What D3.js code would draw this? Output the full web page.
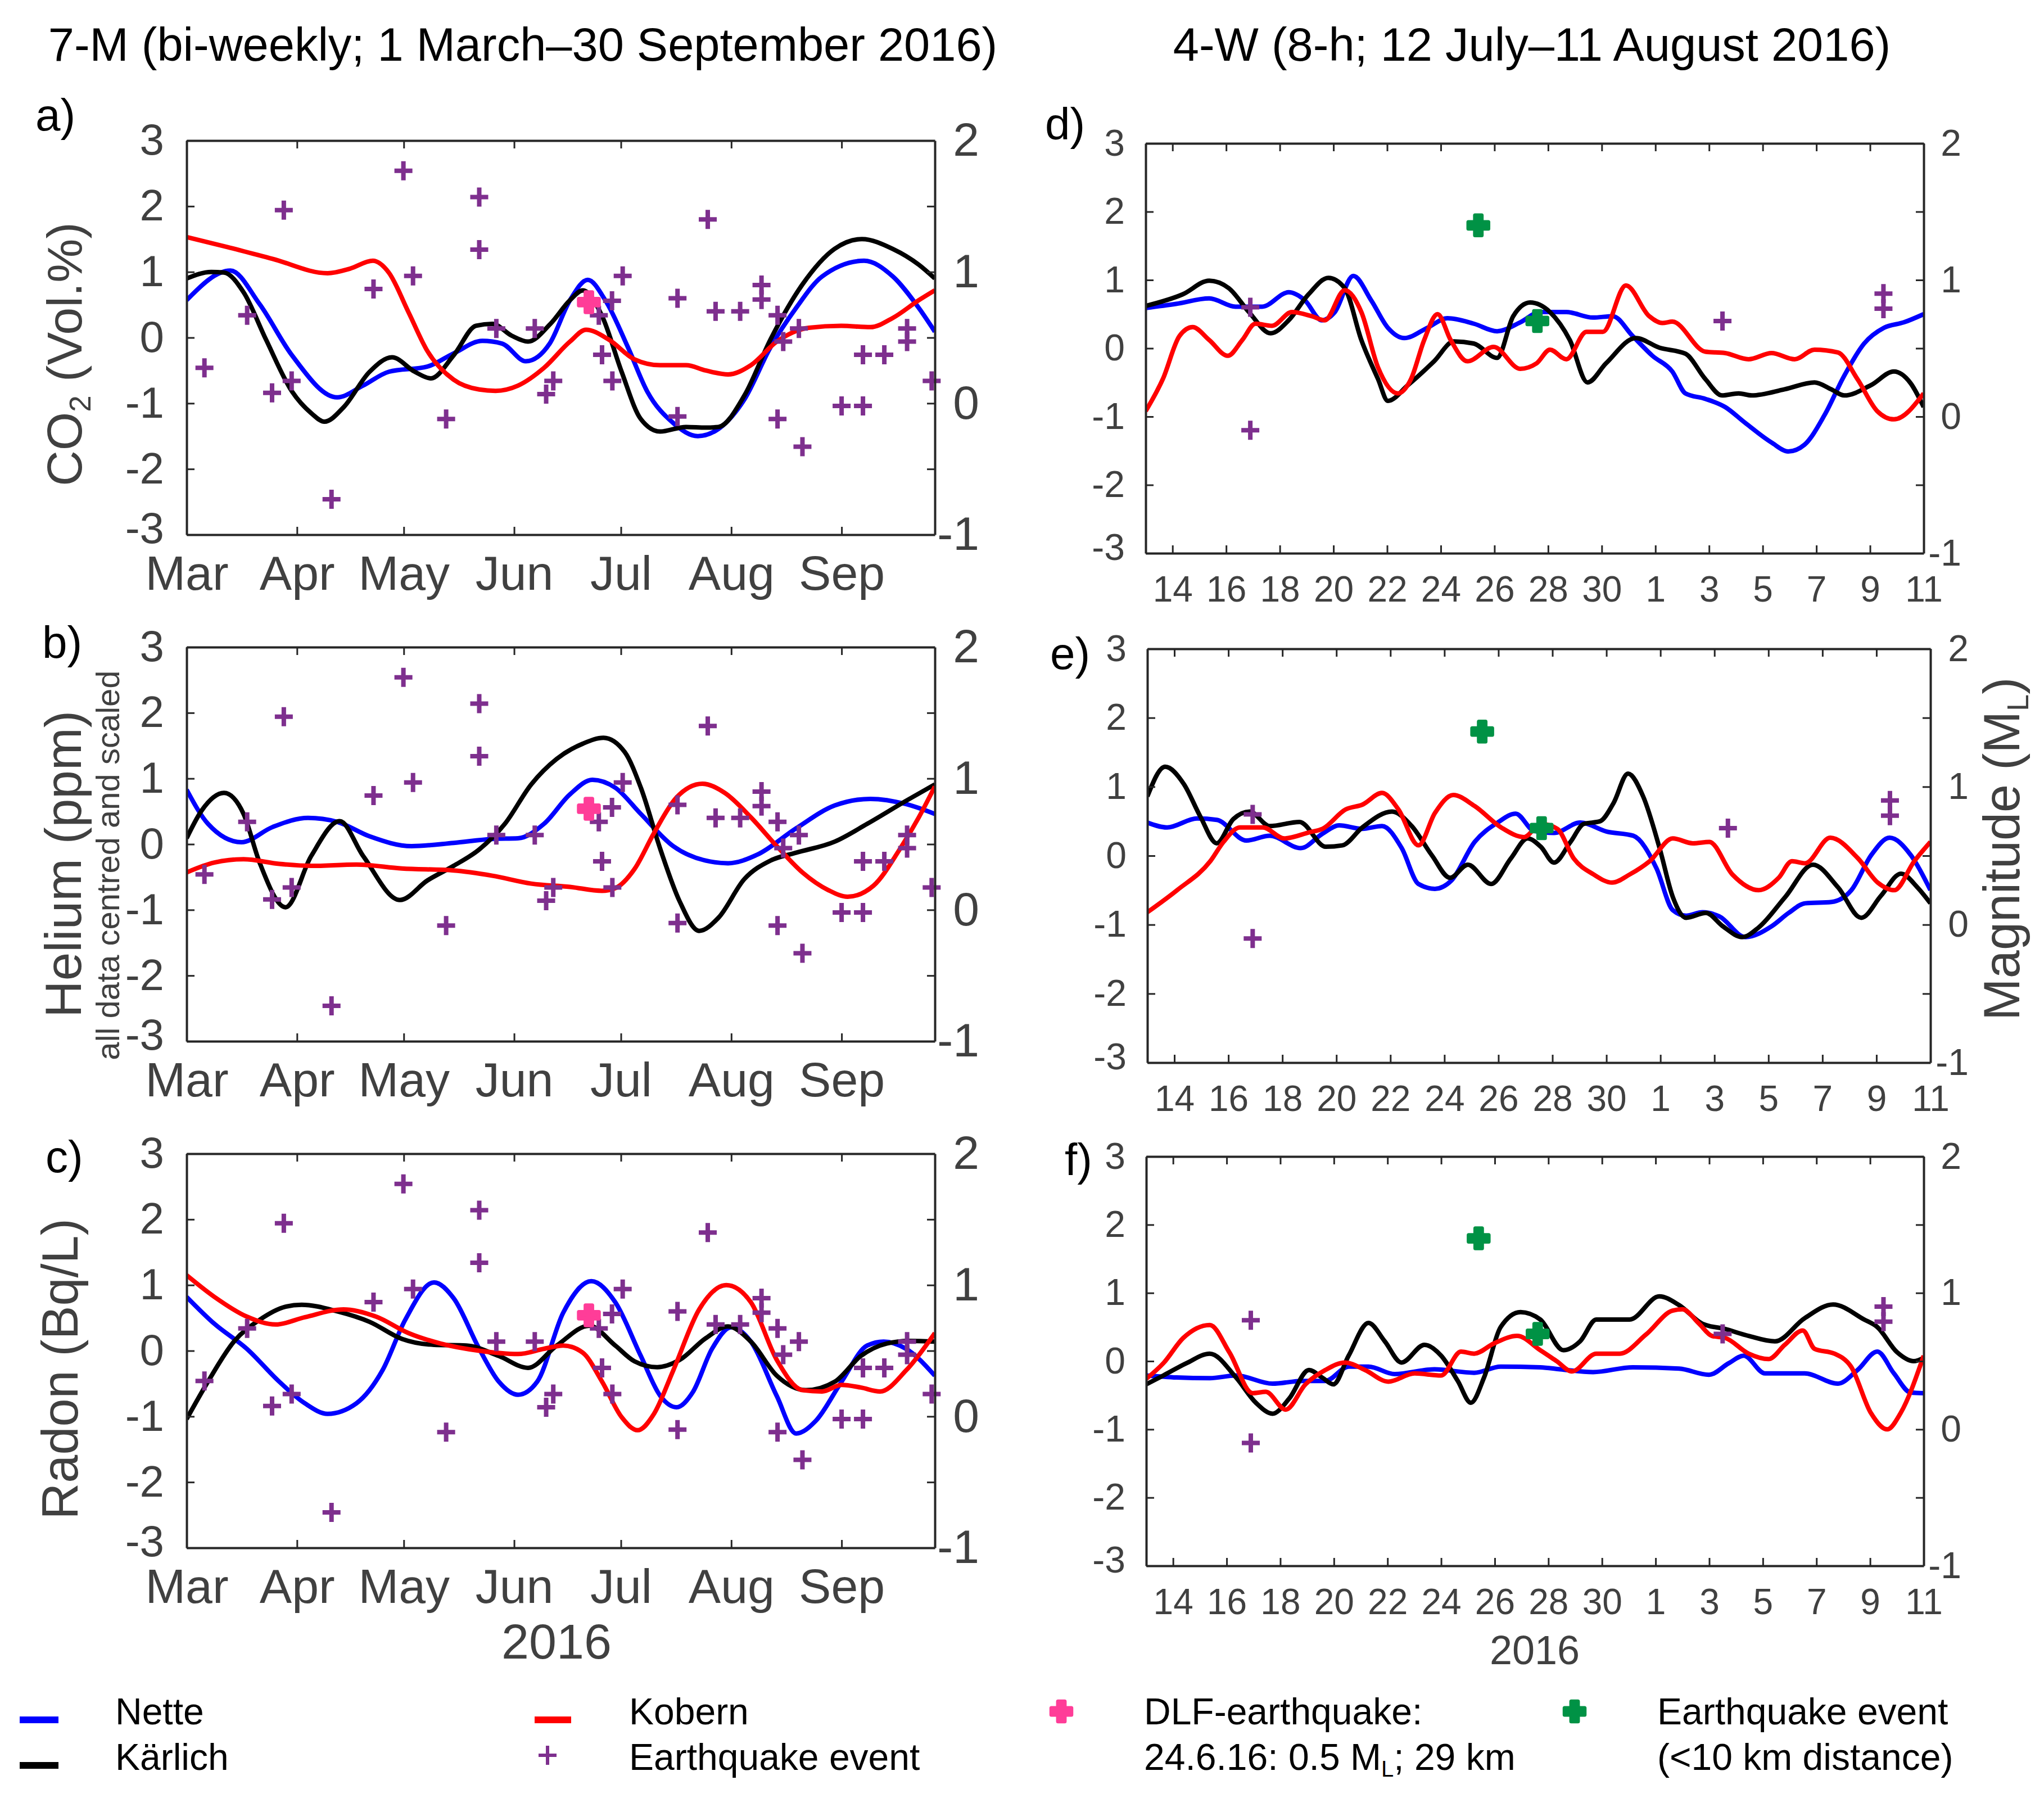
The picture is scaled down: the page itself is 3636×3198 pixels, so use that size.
<!DOCTYPE html>
<html lang="en">
<head>
<meta charset="UTF-8">
<title>Gas anomalies and earthquakes 2016</title>
<script src="https://d3js.org/d3.v7.min.js"></script>
<style>
  body { margin: 0; background: #fff; }
  svg { font-family: "Liberation Sans", Arial, sans-serif; }
</style>
</head>
<body>
<script>
// ---------- data ----------
// 7-M series: [days after 1 March 2016, centred/scaled value]
const co2Nette = [[0,0.57],[12.3,1.02],[20.5,0.51],[29.6,-0.27],[42.3,-0.91],[49.6,-0.73],[56.8,-0.52],[67.7,-0.44],[75,-0.24],[83.1,-0.05],[88.6,-0.09],[95.3,-0.36],[102,-0.09],[107.7,0.57],[112.7,0.88],[117.6,0.57],[124,-0.15],[129.4,-0.82],[136.7,-1.3],[143.6,-1.5],[149.4,-1.39],[156.7,-0.94],[164,-0.15],[171.2,0.45],[178.5,0.93],[190.3,1.17],[198.4,0.93],[205.7,0.45],[210.2,0.09]];
const co2Karlich = [[0,0.9],[6.9,1.0],[10.5,0.99],[16,0.69],[22.3,-0.03],[29.6,-0.82],[35,-1.15],[38.7,-1.28],[44.1,-1.06],[51.4,-0.52],[57.7,-0.3],[64.1,-0.52],[68.6,-0.62],[75,-0.27],[81.3,0.18],[85.9,0.21],[91.3,0.03],[95.9,-0.06],[102.2,0.21],[107.7,0.57],[111.3,0.72],[116.7,0.33],[122.2,-0.52],[127.6,-1.24],[133,-1.43],[140.3,-1.36],[145.8,-1.37],[149.4,-1.36],[156.7,-0.88],[164,-0.03],[173,0.81],[182,1.35],[189.7,1.5],[198.4,1.35],[205.7,1.11],[210.2,0.9]];
const co2Kobern = [[0,1.53],[11.4,1.38],[24.1,1.2],[39.6,0.98],[45.9,1.05],[52.3,1.17],[56.8,0.99],[62.3,0.39],[67.7,-0.21],[75,-0.64],[82.2,-0.79],[86.8,-0.81],[93.1,-0.73],[100.4,-0.46],[107.7,-0.06],[112.2,0.12],[118.6,-0.03],[125.8,-0.33],[133,-0.42],[140.3,-0.42],[145.8,-0.5],[152.1,-0.56],[158.5,-0.42],[165.8,-0.06],[174.8,0.15],[183.9,0.18],[192.1,0.16],[198.4,0.3],[205.7,0.57],[210.2,0.72]];

const heNette = [[0,0.83],[6,0.31],[15.4,0.03],[24.1,0.26],[34.1,0.4],[42.3,0.34],[51.4,0.12],[63.2,-0.03],[75,0.02],[85.9,0.08],[93.1,0.09],[100.4,0.31],[107.7,0.76],[114,0.98],[120.4,0.86],[127.6,0.46],[136.7,-0.03],[145.8,-0.25],[152.1,-0.29],[160.3,-0.16],[171.2,0.24],[182.1,0.59],[192.1,0.69],[202.1,0.61],[210.2,0.46]];
const heKarlich = [[0,0.09],[4.2,0.51],[10.5,0.78],[16,0.46],[20.5,-0.28],[27.8,-0.96],[35,-0.18],[43,0.35],[49.6,-0.18],[59.9,-0.85],[67.7,-0.55],[75,-0.33],[82.2,-0.08],[89.4,0.31],[96.8,0.91],[104,1.3],[111.3,1.53],[117.1,1.62],[123.1,1.4],[127.6,0.86],[133.1,-0.08],[138.5,-0.87],[144,-1.32],[149.4,-1.12],[156.7,-0.53],[164,-0.25],[171.2,-0.13],[182.1,0.04],[191.2,0.31],[202.1,0.66],[210.2,0.91]];
const heKobern = [[0,-0.43],[7.8,-0.28],[16,-0.23],[26,-0.3],[35,-0.33],[47.7,-0.31],[60.5,-0.37],[75,-0.4],[85.9,-0.48],[96.8,-0.6],[107.7,-0.65],[116.7,-0.71],[120.4,-0.67],[125.8,-0.38],[131.3,0.17],[137.6,0.71],[144.9,0.92],[151.2,0.78],[158.5,0.41],[165.8,-0.03],[173,-0.43],[180.3,-0.7],[185.7,-0.8],[193,-0.63],[200.3,-0.08],[205.7,0.41],[210.2,0.88]];

const rnNette = [[0,0.82],[7.8,0.41],[16.9,0.03],[26,-0.47],[33.2,-0.8],[39.6,-0.96],[47.7,-0.8],[55,-0.3],[61.4,0.47],[69.5,1.04],[75,0.8],[82.2,0.03],[87.7,-0.47],[93.1,-0.67],[98.5,-0.47],[105.8,0.58],[113.7,1.06],[120.4,0.74],[127.6,-0.08],[133.1,-0.69],[137.6,-0.86],[142.2,-0.63],[147.6,0.03],[153.1,0.36],[158.5,0.14],[165.8,-0.69],[171.2,-1.26],[176.7,-1.07],[184,-0.47],[191.2,0.08],[195.8,0.14],[202.1,0.03],[210.2,-0.38]];
const rnKarlich = [[0,-1.04],[6,-0.47],[13.3,0.14],[20.5,0.47],[27.8,0.67],[32.3,0.7],[42.3,0.6],[51.4,0.44],[60.5,0.18],[69.5,0.09],[78.6,0.08],[87.7,-0.08],[95.9,-0.26],[104,0.08],[113.1,0.38],[120.4,0.08],[125.8,-0.16],[132.2,-0.25],[138.5,-0.14],[145.8,0.19],[152.1,0.37],[158.5,0.14],[165.8,-0.38],[174,-0.6],[182.1,-0.47],[189.4,-0.08],[196.7,0.11],[203,0.15],[210.2,0.14]];
const rnKobern = [[0,1.15],[7.8,0.82],[16.9,0.52],[25,0.4],[33.2,0.51],[44.1,0.63],[53.2,0.52],[62.3,0.27],[71.3,0.11],[82.2,0.0],[93.1,-0.05],[100.4,0.03],[105.8,0.08],[111.3,-0.03],[116.7,-0.47],[122.2,-1.01],[126.7,-1.21],[131.3,-0.96],[136.7,-0.3],[144,0.63],[151.6,1.0],[158.5,0.74],[165.8,-0.14],[173,-0.6],[178.5,-0.62],[184,-0.52],[189.4,-0.56],[194.8,-0.62],[202.1,-0.3],[210.2,0.27]];

// 4-W series: [days after 13 July 2016, centred/scaled value]
const co2NetteW = [[0,0.59],[1.13,0.65],[2.37,0.73],[3.35,0.61],[4.34,0.61],[5.33,0.82],[5.94,0.7],[6.56,0.41],[7.05,0.53],[7.74,1.06],[8.41,0.7],[9.03,0.3],[9.64,0.15],[10.5,0.3],[11.25,0.44],[12.23,0.36],[13.1,0.25],[13.96,0.38],[14.7,0.53],[15.68,0.53],[16.67,0.45],[17.41,0.47],[18.15,0.18],[18.89,-0.11],[19.63,-0.34],[20.12,-0.66],[20.86,-0.74],[21.6,-0.86],[22.34,-1.09],[23.33,-1.38],[23.95,-1.51],[24.56,-1.41],[25.3,-0.98],[26.04,-0.4],[26.78,0.07],[27.52,0.3],[28.26,0.38],[29,0.5]];
const co2KarlichW = [[0,0.62],[1.38,0.79],[2.37,0.99],[3.1,0.88],[3.85,0.53],[4.66,0.22],[5.33,0.41],[6.07,0.79],[6.81,1.03],[7.42,0.88],[8.04,0.12],[8.66,-0.45],[9.03,-0.77],[9.77,-0.54],[10.75,-0.19],[11.49,0.1],[12.23,0.07],[13.1,-0.14],[13.7,0.47],[14.33,0.67],[15.07,0.53],[15.81,0.12],[16.47,-0.5],[17.16,-0.22],[18.27,0.15],[19.14,0.01],[20.12,-0.08],[20.86,-0.45],[21.48,-0.69],[22.1,-0.66],[22.59,-0.69],[23.82,-0.6],[24.93,-0.5],[25.55,-0.6],[26.04,-0.69],[27.03,-0.54],[27.89,-0.34],[28.51,-0.51],[29,-0.86]];
const co2KobernW = [[0,-0.92],[0.64,-0.45],[1.26,0.18],[1.75,0.31],[2.37,0.12],[3.06,-0.11],[3.6,0.12],[4.09,0.36],[4.71,0.33],[5.45,0.53],[6.19,0.47],[6.68,0.41],[7.42,0.85],[8.04,0.53],[8.66,-0.28],[9.4,-0.66],[9.89,-0.45],[10.38,0.12],[10.88,0.5],[11.37,0.12],[11.99,-0.19],[12.97,0.02],[13.96,-0.3],[14.57,-0.22],[15.07,-0.02],[15.68,-0.16],[16.43,0.24],[17.04,0.24],[17.9,0.92],[18.77,0.47],[19.26,0.37],[19.63,0.39],[20.86,-0.05],[21.6,-0.07],[22.47,-0.16],[23.33,-0.07],[24.19,-0.16],[24.93,-0.02],[25.8,-0.06],[26.53,-0.45],[27.27,-0.92],[27.89,-1.04],[29,-0.66]];

const heNetteW = [[0,0.48],[0.73,0.41],[1.84,0.54],[2.57,0.52],[3.67,0.22],[4.53,0.29],[5.68,0.11],[6.49,0.32],[7.1,0.44],[7.96,0.39],[8.69,0.43],[9.42,0.11],[10.04,-0.41],[10.65,-0.48],[11.26,-0.36],[12.12,0.2],[12.97,0.48],[13.64,0.61],[14.32,0.36],[15.06,0.33],[16.03,0.48],[17.01,0.35],[17.99,0.29],[18.85,-0.18],[19.46,-0.79],[19.95,-0.87],[20.56,-0.82],[21.18,-0.88],[22.15,-1.18],[23.13,-1.02],[23.75,-0.83],[24.36,-0.69],[25.34,-0.67],[26.07,-0.5],[26.81,0.01],[27.49,0.26],[28.27,0.01],[29,-0.5]];
const heKarlichW = [[0,0.86],[0.66,1.29],[1.35,1.04],[1.96,0.57],[2.57,0.18],[3.18,0.53],[3.79,0.64],[4.53,0.43],[5.63,0.49],[6.61,0.13],[7.22,0.15],[7.96,0.41],[9.06,0.64],[9.79,0.43],[10.53,0.01],[11.21,-0.32],[11.87,-0.13],[12.73,-0.41],[13.46,-0.04],[14.08,0.25],[14.57,0.13],[15.06,-0.1],[15.67,0.2],[16.16,0.46],[16.77,0.5],[17.26,0.76],[17.8,1.19],[18.36,0.86],[18.97,0.11],[19.46,-0.6],[19.95,-0.9],[20.69,-0.83],[21.3,-1.02],[22.03,-1.18],[22.64,-1.04],[23.62,-0.6],[24.65,-0.13],[25.58,-0.46],[26.44,-0.9],[27.17,-0.58],[27.91,-0.26],[28.52,-0.46],[29,-0.69]];
const heKobernW = [[0,-0.82],[1.1,-0.5],[2.33,-0.08],[2.82,0.2],[3.43,0.41],[4.28,0.41],[5.07,0.25],[6,0.34],[6.49,0.39],[7.34,0.67],[7.96,0.74],[8.69,0.91],[9.3,0.67],[10.04,0.15],[10.65,0.62],[11.33,0.88],[12.12,0.72],[13.1,0.41],[13.95,0.27],[14.57,0.46],[15.18,0.39],[15.79,-0.04],[16.52,-0.27],[17.21,-0.39],[17.87,-0.27],[18.6,-0.08],[19.46,0.25],[20.2,0.18],[20.81,0.2],[21.66,-0.27],[22.64,-0.5],[23.38,-0.32],[23.87,-0.08],[24.36,-0.11],[25.29,0.26],[26.32,-0.04],[27.05,-0.39],[27.66,-0.5],[28.4,-0.08],[29,0.2]];

const rnNetteW = [[0,-0.21],[1.13,-0.24],[2.37,-0.25],[3.35,-0.21],[4.71,-0.33],[5.82,-0.29],[6.68,-0.29],[7.55,-0.08],[8.29,-0.08],[9.27,-0.19],[10.75,-0.12],[12.23,-0.17],[13.22,-0.08],[14.7,-0.09],[15.44,-0.12],[16.67,-0.16],[18.15,-0.09],[19.88,-0.11],[20.99,-0.2],[21.73,-0.03],[22.29,0.08],[23.08,-0.18],[24.56,-0.18],[25.8,-0.33],[26.53,-0.13],[27.27,0.14],[27.89,-0.18],[28.51,-0.46],[29,-0.47]];
const rnKarlichW = [[0,-0.34],[0.64,-0.21],[1.5,-0.03],[2.37,0.11],[3.35,-0.24],[4.09,-0.61],[4.71,-0.77],[5.33,-0.55],[6.07,-0.13],[6.56,-0.24],[6.98,-0.34],[7.55,0.08],[8.29,0.56],[8.9,0.29],[9.52,-0.02],[10.38,0.24],[11,0.08],[11.62,-0.29],[12.11,-0.61],[12.6,-0.24],[13.22,0.5],[13.96,0.72],[14.7,0.61],[15.56,0.16],[16.18,0.29],[16.79,0.61],[18.03,0.61],[19.14,0.95],[19.88,0.82],[20.74,0.55],[21.6,0.47],[22.47,0.37],[23.45,0.29],[24.56,0.63],[25.62,0.83],[26.78,0.61],[27.27,0.5],[28.01,0.13],[28.63,0.0],[29,0.05]];
const rnKobernW = [[0,-0.26],[0.64,-0.03],[1.38,0.34],[2.37,0.53],[3.1,0.13],[3.97,-0.47],[4.46,-0.45],[5.2,-0.71],[5.94,-0.34],[6.68,-0.13],[7.42,-0.02],[8.16,-0.13],[9.03,-0.3],[10.01,-0.18],[11,-0.21],[11.74,0.14],[12.23,0.11],[12.97,0.26],[13.83,0.37],[14.7,0.16],[15.31,0.0],[15.88,-0.15],[16.79,0.11],[17.66,0.11],[18.64,0.39],[19.63,0.74],[20,0.76],[20.62,0.55],[21.1,0.37],[21.6,0.34],[22.47,0.11],[23.21,0.03],[23.82,0.24],[24.49,0.45],[24.93,0.18],[25.67,0.11],[26.29,-0.08],[27.03,-0.76],[27.64,-1.0],[28.14,-0.76],[29,0.08]];

// earthquake events: days after 1 March 2016, local magnitude (ML), 1 = <10 km distance
const eventDays = [5,17,24,27.3,29.5,40.7,52.5,60.9,63.6,72.9,82.2,82.2,87,97.8,101,103,115.8,116.7,119.5,119.6,122.5,137.9,137.9,146.4,148.6,155.5,161.5,161.5,166,166,167.6,172,173,184,190,190,196,202.4,202.4,209.3];
const eventMag = [0.27,0.67,0.08,1.47,0.17,-0.73,0.87,1.77,0.97,-0.12,1.57,1.17,0.57,0.57,0.07,0.17,0.67,0.37,0.78,0.17,0.97,0.8,-0.1,1.4,0.7,0.7,0.9,0.79,0.67,-0.12,0.47,0.57,-0.33,-0.02,-0.02,0.37,0.37,0.57,0.47,0.17];
const eventNear = [0,0,0,0,0,0,0,0,0,0,0,0,0,0,0,0,0,0,0,0,0,0,0,1,1,0,0,0,0,0,0,0,0,0,0,0,0,0,0,0];
const dlfDay = 113, dlfMag = 0.77;

const monthLabels = ["Mar","Apr","May","Jun","Jul","Aug","Sep"];
const weekTickDays = [1,3,5,7,9,11,13,15,17,19,21,23,25,27,29]; // after 13 July
const leftTicks = [-3,-2,-1,0,1,2,3];
const magTicks = [-1,-0.5,0,0.5,1,1.5,2];

// ---------- layout ----------
const W = 3636, H = 3198;
const svg = d3.select("body").append("svg").attr("width", W).attr("height", H);

const dayMs = 864e5;
const startM = Date.UTC(2016, 2, 1);
const startW = Date.UTC(2016, 6, 13);
const col = { nette: "#0000ff", kobern: "#ff0000", karlich: "#000000",
              quake: "#7e2f8e", dlf: "#ff3d98", near: "#009245" };
const axisCol = "#262626", textCol = "#404040";

const mStyle = { t0: startM, end: 210.2, yFont: 78, xFont: 86, rFont: 84, yPad: 40, xPad: 37,
  ticks: monthLabels.map((m, i) => new Date(Date.UTC(2016, 2 + i, 1))), fmt: d3.utcFormat("%b") };
const wStyle = { t0: startW, end: 29, yFont: 66, xFont: 64, rFont: 66, yPad: 37, xPad: 41,
  ticks: weekTickDays.map(d => new Date(startW + d * dayMs)), fmt: d3.utcFormat("%-d") };

const panels = [
  { id: "a", s: mStyle, x0: 332, x1: 1663, y0: 250, y1: 951, rx: 79, lines: [co2Nette, co2Karlich, co2Kobern], letter: [63, 232] },
  { id: "b", s: mStyle, x0: 332, x1: 1663, y0: 1151, y1: 1852, rx: 79, lines: [heNette, heKarlich, heKobern], letter: [75, 1170] },
  { id: "c", s: mStyle, x0: 332, x1: 1663, y0: 2052, y1: 2753, rx: 79, lines: [rnNette, rnKarlich, rnKobern], letter: [81, 2085] },
  { id: "d", s: wStyle, x0: 2038, x1: 3422, y0: 255, y1: 984, rx: 67, lines: [co2NetteW, co2KarlichW, co2KobernW], letter: [1859, 248] },
  { id: "e", s: wStyle, x0: 2041, x1: 3434, y0: 1154, y1: 1890, rx: 68, lines: [heNetteW, heKarlichW, heKobernW], letter: [1868, 1190] },
  { id: "f", s: wStyle, x0: 2039, x1: 3422, y0: 2057, y1: 2785, rx: 67, lines: [rnNetteW, rnKarlichW, rnKobernW], letter: [1894, 2090] }
];
const lineColors = [col.nette, col.karlich, col.kobern];

const plusPath = "M-16,0H16M0,-17V17";
const bigCross = d3.symbol(d3.symbolCross, 700);

// chunky cross used for the DLF and near events
function fatCross(sel, color) {
  return sel.attr("d", bigCross).attr("fill", color).attr("stroke", color)
    .attr("stroke-width", 7).attr("stroke-linejoin", "round");
}

panels.forEach(p => {
  const s = p.s;
  const g = svg.append("g");
  const x = d3.scaleUtc().domain([new Date(s.t0), new Date(s.t0 + s.end * dayMs)]).range([p.x0, p.x1]);
  const y = d3.scaleLinear().domain([-3, 3]).range([p.y1, p.y0]);
  const yM = d3.scaleLinear().domain([-1, 2]).range([p.y1, p.y0]);

  g.append("clipPath").attr("id", "clip" + p.id).append("rect")
    .attr("x", p.x0).attr("y", p.y0).attr("width", p.x1 - p.x0).attr("height", p.y1 - p.y0);

  // series
  const line = d3.line()
    .x(d => x(new Date(s.t0 + d[0] * dayMs)))
    .y(d => y(d[1]))
    .curve(d3.curveMonotoneX);
  const lg = g.append("g").attr("clip-path", `url(#clip${p.id})`);
  p.lines.forEach((ser, i) => {
    lg.append("path").attr("d", line(ser)).attr("fill", "none")
      .attr("stroke", lineColors[i]).attr("stroke-width", 8).attr("stroke-linejoin", "round");
  });

  // earthquake markers
  const ev = eventDays.map((d, i) => ({ t: new Date(startM + d * dayMs), m: eventMag[i], near: eventNear[i] }))
    .filter(e => e.t >= x.domain()[0] && e.t <= x.domain()[1]);
  const isW = s === wStyle;
  g.selectAll(".q").data(ev.filter(e => !(isW && e.near))).enter().append("path")
    .attr("d", plusPath).attr("transform", e => `translate(${x(e.t)},${yM(e.m)})`)
    .attr("stroke", col.quake).attr("stroke-width", 8).attr("fill", "none");
  if (isW) {
    g.selectAll(".n").data(ev.filter(e => e.near)).enter().append("path")
      .call(fatCross, col.near)
      .attr("transform", e => `translate(${x(e.t)},${yM(e.m)})`);
  } else {
    g.append("path").call(fatCross, col.dlf)
      .attr("transform", `translate(${x(new Date(startM + dlfDay * dayMs))},${yM(dlfMag)})`);
  }

  // axes
  const ax = g.append("g");
  ax.append("g").attr("transform", `translate(${p.x0},0)`)
    .call(d3.axisLeft(y).tickValues(leftTicks).tickFormat(d => String(d)).tickSize(-14).tickSizeOuter(0).tickPadding(s.yPad))
    .selectAll("text").attr("font-size", s.yFont)
    .attr("dy", d => d === -3 ? "0.18em" : "0.32em");
  ax.append("g").attr("transform", `translate(${p.x1},0)`)
    .call(d3.axisRight(yM).tickValues(magTicks).tickFormat(d => Number.isInteger(d) ? String(d) : "").tickSize(-14).tickSizeOuter(0))
    .selectAll("text").attr("font-size", s.rFont).attr("x", p.rx).attr("text-anchor", "end");
  ax.append("g").attr("transform", `translate(0,${p.y1})`)
    .call(d3.axisBottom(x).tickValues(s.ticks).tickFormat(s.fmt).tickSize(-14).tickSizeOuter(0).tickPadding(s.xPad))
    .selectAll("text").attr("font-size", s.xFont);
  ax.append("g").attr("transform", `translate(0,${p.y0})`)
    .call(d3.axisTop(x).tickValues(s.ticks).tickFormat("").tickSize(-14).tickSizeOuter(0));
  ax.selectAll(".domain").attr("stroke", axisCol).attr("stroke-width", 4);
  ax.selectAll(".tick line").attr("stroke", axisCol).attr("stroke-width", 3);
  ax.selectAll("text").attr("fill", textCol).attr("font-family", "Liberation Sans, Arial, sans-serif");

  svg.append("text").attr("x", p.letter[0]).attr("y", p.letter[1])
    .attr("font-size", 80).attr("fill", "#000").text(p.id + ")");
});

// titles
svg.append("text").attr("x", 930).attr("y", 108).attr("text-anchor", "middle")
  .attr("font-size", 83).attr("fill", "#000").text("7-M (bi-weekly; 1 March\u201330 September 2016)");
svg.append("text").attr("x", 2725).attr("y", 108).attr("text-anchor", "middle")
  .attr("font-size", 83).attr("fill", "#000").text("4-W (8-h; 12 July\u201311 August 2016)");

// axis labels
function vLabel(x, y, size, parts) {
  const t = svg.append("text").attr("transform", `translate(${x},${y}) rotate(-90)`)
    .attr("text-anchor", "middle").attr("font-size", size).attr("fill", textCol);
  parts.forEach(pt => {
    const ts = t.append("tspan").text(pt.t);
    if (pt.sub) ts.attr("font-size", size * 0.6).attr("dy", size * 0.18);
    if (pt.up) ts.attr("dy", -size * 0.18);
  });
}
vLabel(145, 630, 88, [{ t: "CO" }, { t: "2", sub: true }, { t: " (Vol.%)", up: true }]);
vLabel(144, 1537, 91, [{ t: "Helium (ppm)" }]);
vLabel(212, 1539, 58, [{ t: "all data centred and scaled" }]);
vLabel(138, 2435, 90, [{ t: "Radon (Bq/L)" }]);
vLabel(3592, 1510, 90, [{ t: "Magnitude (M" }, { t: "L", sub: true }, { t: ")", up: true }]);

svg.append("text").attr("x", 990).attr("y", 2950).attr("text-anchor", "middle")
  .attr("font-size", 88).attr("fill", textCol).text("2016");
svg.append("text").attr("x", 2730).attr("y", 2960).attr("text-anchor", "middle")
  .attr("font-size", 72).attr("fill", textCol).text("2016");

// legend
const leg = svg.append("g").attr("font-size", 66).attr("fill", "#000");
const legLine = (x1, x2, yy, c) => leg.append("line").attr("x1", x1).attr("x2", x2)
  .attr("y1", yy).attr("y2", yy).attr("stroke", c).attr("stroke-width", 12);
legLine(35, 104, 3059, col.nette);
legLine(35, 104, 3140, col.karlich);
legLine(951, 1016, 3059, col.kobern);
leg.append("path").attr("d", plusPath).attr("transform", "translate(974,3122)")
  .attr("stroke", col.quake).attr("stroke-width", 6).attr("fill", "none");
leg.append("path").call(fatCross, col.dlf).attr("transform", "translate(1888,3044)");
leg.append("path").call(fatCross, col.near).attr("transform", "translate(2801,3044)");

leg.append("text").attr("x", 205).attr("y", 3067).text("Nette");
leg.append("text").attr("x", 205).attr("y", 3148).text("K\u00e4rlich");
leg.append("text").attr("x", 1119).attr("y", 3067).text("Kobern");
leg.append("text").attr("x", 1119).attr("y", 3148).text("Earthquake event");
leg.append("text").attr("x", 2035).attr("y", 3067).text("DLF-earthquake:");
const dl = leg.append("text").attr("x", 2035).attr("y", 3148);
dl.append("tspan").text("24.6.16: 0.5 M");
dl.append("tspan").text("L").attr("font-size", 40).attr("dy", 12);
dl.append("tspan").text("; 29 km").attr("dy", -12);
leg.append("text").attr("x", 2948).attr("y", 3067).text("Earthquake event");
leg.append("text").attr("x", 2948).attr("y", 3148).text("(<10 km distance)");
</script>
</body>
</html>
